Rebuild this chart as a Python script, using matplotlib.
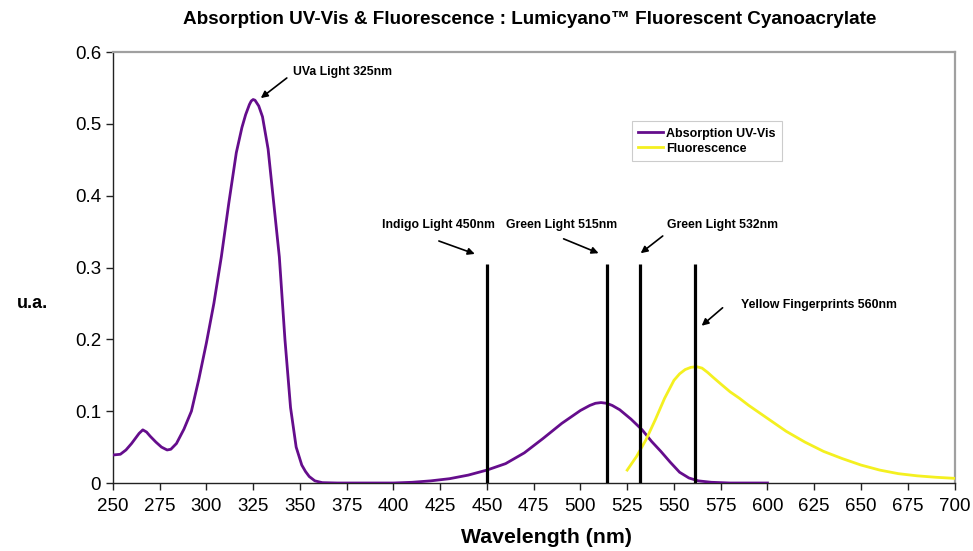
import matplotlib
matplotlib.use("Agg")
import matplotlib.pyplot as plt
from matplotlib.ticker import MultipleLocator, FuncFormatter

plt.rcParams["font.family"] = ["Liberation Sans", "DejaVu Sans"]

# ── data ────────────────────────────────────────────────────────────────────
abs_nm = [250, 254, 257, 260, 262, 264, 266, 268, 270, 273, 276, 279, 281,
          284, 288, 292, 296, 300, 304, 308, 312, 316, 319, 321, 323, 324,
          325, 326, 328, 330, 333, 336, 339, 342, 345, 348, 351, 353, 355,
          358, 362, 370, 380, 400, 410, 420, 430, 440, 450, 460, 470, 480,
          490, 500, 505, 508, 511, 514, 517, 521, 527, 533, 538, 543, 548,
          553, 558, 563, 570, 580, 600]
abs_val = [0.039, 0.040, 0.046, 0.055, 0.062, 0.069, 0.074, 0.071, 0.065,
           0.057, 0.050, 0.046, 0.047, 0.055, 0.075, 0.100, 0.145, 0.195,
           0.250, 0.315, 0.390, 0.460, 0.495, 0.513, 0.527, 0.532, 0.534,
           0.533, 0.525, 0.510, 0.465, 0.390, 0.315, 0.200, 0.105, 0.050,
           0.025, 0.016, 0.009, 0.003, 0.0005, 0.0, 0.0, 0.0, 0.001, 0.003,
           0.006, 0.011, 0.018, 0.027, 0.042, 0.062, 0.083, 0.101, 0.108,
           0.111, 0.112, 0.111, 0.108, 0.102, 0.089, 0.074, 0.058, 0.044,
           0.029, 0.015, 0.007, 0.003, 0.001, 0.0, 0.0]

fluo_nm = [525, 530, 535, 540, 545, 550, 553, 556, 559, 562, 565, 568, 571,
           575, 580, 585, 590, 600, 610, 620, 630, 640, 650, 660, 670, 680,
           690, 700]
fluo_val = [0.018, 0.037, 0.060, 0.088, 0.118, 0.143, 0.152, 0.158, 0.161,
            0.162, 0.160, 0.154, 0.147, 0.138, 0.127, 0.118, 0.108, 0.090,
            0.072, 0.057, 0.044, 0.034, 0.025, 0.018, 0.013, 0.010, 0.008,
            0.0065]

laser_nm = [450, 514, 532, 561]
laser_height = 0.305

# annotation: label, text position, arrow tail, arrow head
notes = [
    ("UVa Light 325nm",           (346.2, 0.572), (343.0, 0.564), (329.1, 0.536)),
    ("Indigo Light 450nm",        (394.1, 0.359), (424.3, 0.337), (443.5, 0.319)),
    ("Green Light 515nm",         (460.0, 0.359), (491.0, 0.340), (509.7, 0.320)),
    ("Green Light 532nm",         (546.5, 0.359), (544.0, 0.344), (532.2, 0.320)),
    ("Yellow Fingerprints 560nm", (586.0, 0.248), (576.0, 0.244), (564.8, 0.219)),
]

PURPLE = "#650d8c"
YELLOW = "#f4f020"

fig = plt.figure(figsize=(9.73, 5.51), dpi=100, facecolor="white")
ax = fig.add_axes([0.116, 0.1234, 0.865, 0.782])

ax.plot(abs_nm, abs_val, color=PURPLE, lw=2.0, label="Absorption UV-Vis",
        solid_joinstyle="round", zorder=3)
ax.plot(fluo_nm, fluo_val, color=YELLOW, lw=2.0, label="Fluorescence",
        solid_joinstyle="round", zorder=3)
ax.vlines(laser_nm, 0, laser_height, color="black", lw=2.3, zorder=4)

for label, txt, tail, head in notes:
    ax.text(txt[0], txt[1], label, fontsize=8.8, fontweight="bold",
            ha="left", va="center")
    ax.annotate("", xy=head, xytext=tail,
                arrowprops=dict(arrowstyle="-|>", color="black", lw=1.2,
                                mutation_scale=10, shrinkA=0, shrinkB=0))

ax.set_xlim(250, 700)
ax.set_ylim(0, 0.6)
ax.xaxis.set_major_locator(MultipleLocator(25))
ax.yaxis.set_major_locator(MultipleLocator(0.1))
ax.yaxis.set_major_formatter(FuncFormatter(lambda v, p: "0" if abs(v) < 1e-9 else f"{v:.1f}"))
ax.tick_params(direction="out", length=5, width=1, labelsize=13.5, color="#222222")
ax.tick_params(axis="x", pad=6)

for side in ("left", "bottom"):
    ax.spines[side].set_color("#222222")
    ax.spines[side].set_linewidth(1.0)
for side in ("top", "right"):
    ax.spines[side].set_color("#a0a0a0")
    ax.spines[side].set_linewidth(1.6)

leg = ax.legend(loc="upper left", bbox_to_anchor=(0.617, 0.839),
                prop={"weight": "bold", "size": 9}, handlelength=2.0,
                handletextpad=0.2, borderpad=0.5, labelspacing=0.25,
                borderaxespad=0, fancybox=False, framealpha=1)
leg.get_frame().set_edgecolor("#cccccc")
leg.get_frame().set_linewidth(0.8)

fig.text(0.544, 0.964, "Absorption UV-Vis & Fluorescence : Lumicyano\u2122 Fluorescent Cyanoacrylate",
         ha="center", va="center", fontsize=13.6, fontweight="bold")
fig.text(32.5 / 973, 1 - 303 / 551, "u.a.", ha="center", va="center",
         fontsize=13, fontweight="bold")
fig.text(546 / 973, 1 - 543 / 551, "Wavelength (nm)", ha="center",
         va="baseline", fontsize=15.3, fontweight="bold")

fig.savefig("out.png", dpi=100, facecolor="white")
plt.close(fig)
